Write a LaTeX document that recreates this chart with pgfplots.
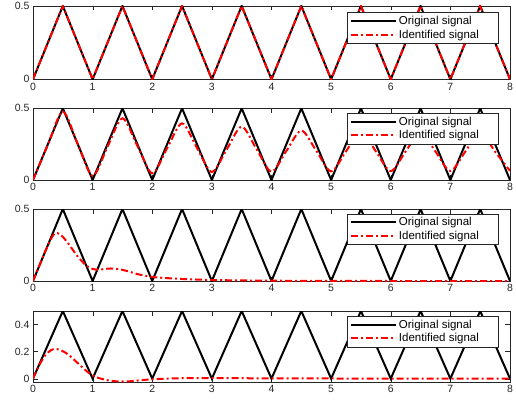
\documentclass[border=0pt]{standalone}
\usepackage{pgfplots}
\pgfplotsset{compat=1.18}
\usepackage{fontspec}
\setmainfont{Liberation Sans}
\definecolor{axgray}{gray}{0.15}

\pgfplotsset{
 panel/.style={
  scale only axis, width=477pt, anchor=south west,
  xmin=0, xmax=8, xtick={0,...,8},
  axis line style={axgray},
  tick style={axgray},
  major tick length=4.5pt,
  tick label style={font=\fontsize{10.5}{12}\selectfont, text=axgray},
  /pgf/number format/assume math mode=true,
  legend style={anchor=north east, draw=axgray, fill=white,
    font=\fontsize{11.5}{13}\selectfont, inner xsep=3pt, inner ysep=1.5pt, row sep=0pt},
  legend cell align=left,
  legend image code/.code={\draw[#1] (0pt,0pt) -- (45pt,0pt);},
 },
 orig/.style={black, line width=2pt},
 iden/.style={red, line width=2pt, dash pattern=on 7pt off 3pt on 2pt off 3pt},
}

\newcommand{\origdata}{(0,0)(0.5,0.5)(1,0)(1.5,0.5)(2,0)(2.5,0.5)(3,0)(3.5,0.5)(4,0)(4.5,0.5)(5,0)(5.5,0.5)(6,0)(6.5,0.5)(7,0)(7.5,0.5)(8,0)}

\begin{document}
\begin{tikzpicture}
\path[use as bounding box] (0,0) rectangle (516pt,405pt);

% Panel 1
\begin{axis}[panel, at={(33pt,325.7pt)}, height=73.3pt, ymin=0, ymax=0.5, ytick={0,0.5},
  legend style={at={(0.975,0.914)}}]
\addplot[orig] coordinates {\origdata};
\addlegendentry{Original signal\hspace*{14pt}}
\addplot[iden] coordinates {\origdata};
\addlegendentry{Identified signal\hspace*{14pt}}
\end{axis}

% Panel 2
\begin{axis}[panel, at={(33pt,225pt)}, height=71.7pt, ymin=0, ymax=0.5, ytick={0,0.5},
  legend style={at={(0.975,0.934)}}]
\addplot[orig] coordinates {\origdata};
\addlegendentry{Original signal\hspace*{14pt}}
\addplot[iden, smooth] coordinates {
(0,0)(0.25,0.245)(0.5,0.477)(0.75,0.252)
(1,0.028)(1.25,0.232)(1.5,0.43)(1.75,0.238)
(2,0.047)(2.25,0.222)(2.5,0.395)(2.75,0.224)
(3,0.056)(3.25,0.214)(3.5,0.372)(3.75,0.215)
(4,0.058)(4.25,0.203)(4.5,0.345)(4.75,0.205)
(5,0.06)(5.25,0.2)(5.5,0.338)(5.75,0.2)
(6,0.062)(6.25,0.199)(6.5,0.335)(6.75,0.199)
(7,0.063)(7.25,0.198)(7.5,0.333)(7.75,0.198)
(8,0.064)};
\addlegendentry{Identified signal\hspace*{14pt}}
\end{axis}

% Panel 3
\begin{axis}[panel, at={(33pt,124pt)}, height=72pt, ymin=0, ymax=0.5, ytick={0,0.5},
  legend style={at={(0.975,0.934)}}]
\addplot[orig] coordinates {\origdata};
\addlegendentry{Original signal\hspace*{14pt}}
\addplot[iden, smooth] coordinates {
(0,0)(0.1,0.1)(0.2,0.2)(0.3,0.29)(0.37,0.333)(0.45,0.325)(0.5,0.307)
(0.6,0.256)(0.75,0.17)(0.9,0.105)(1.0,0.084)(1.1,0.079)(1.3,0.087)
(1.45,0.081)(1.6,0.067)(1.75,0.048)(2.0,0.028)(2.25,0.02)(2.5,0.014)
(3.0,0.007)(3.5,0.004)(4.0,0.002)(5.0,0.001)(6,0)(7,0)(8,0)};
\addlegendentry{Identified signal\hspace*{14pt}}
\end{axis}

% Panel 4
\begin{axis}[panel, at={(33pt,23pt)}, height=71pt, ymin=-0.025, ymax=0.5, ytick={0,0.2,0.4},
  legend style={at={(0.975,0.93)}}]
\addplot[orig] coordinates {\origdata};
\addlegendentry{Original signal\hspace*{14pt}}
\addplot[iden, smooth] coordinates {
(0,0)(0.1,0.095)(0.2,0.17)(0.3,0.21)(0.37,0.219)(0.45,0.213)(0.5,0.203)
(0.6,0.175)(0.75,0.115)(0.9,0.055)(1.0,0.024)(1.1,0.005)(1.25,-0.012)
(1.4,-0.02)(1.5,-0.021)(1.65,-0.019)(1.8,-0.012)(2.0,-0.005)(2.25,0.0)
(2.5,0.003)(3.0,0.004)(3.5,0.003)(4,0.002)(5,0.001)(6,0)(7,0)(8,0)};
\addlegendentry{Identified signal\hspace*{14pt}}
\end{axis}
\end{tikzpicture}
\end{document}
